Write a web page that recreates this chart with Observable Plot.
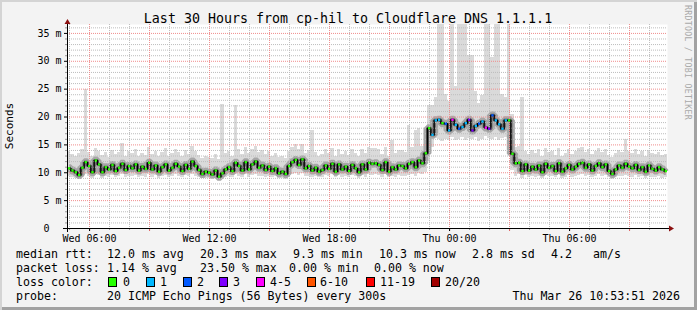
<!DOCTYPE html>
<html><head><meta charset="utf-8">
<script src="https://cdn.jsdelivr.net/npm/d3@7"></script>
<script src="https://cdn.jsdelivr.net/npm/@observablehq/plot@0.6"></script>
<style>
html,body{margin:0;padding:0;background:#fff;}
#chart{position:relative;width:697px;height:310px;background:#f3f3f3;overflow:hidden;font-family:"DejaVu Sans Mono",monospace;box-shadow:inset 2px 2px 0 #d4d4d4, inset -3px -3px 0 #a2a2a2;}
#chart svg{position:absolute;left:0;top:0;}
#chart svg text{white-space:pre;}
.t{position:absolute;white-space:pre;color:#000;font-size:11.6px;line-height:14px;height:14px;}
.box{position:absolute;width:7px;height:8px;border:1px solid #000;}
</style>
</head><body>
<div id="chart"></div>
<script>
// ---- data, 10-minute bins, 30 hours ----
const startMs = Date.UTC(2026, 2, 25, 4, 53, 51);   // Wed Mar 25 04:53:51
const endMs   = Date.UTC(2026, 2, 26, 10, 53, 51);  // Thu Mar 26 10:53:51
const stepMs  = 600000;

// median rtt (ms)
const median = [
 10.8,10.4,10.1,9.6,10.9,11.9,11.2,10.1,12.2,11.5,
 10.1,11.0,10.6,11.4,10.3,10.9,11.6,10.5,11.2,10.8,
 11.5,10.4,11.1,10.7,11.8,10.6,11.3,10.2,11.0,11.5,
 10.4,10.9,11.6,11.1,10.3,11.4,10.7,12.0,11.2,10.5,
 9.8,10.2,10.0,9.7,10.4,9.3,9.9,10.6,11.0,10.3,
 11.8,11.2,10.4,11.9,10.6,11.5,12.0,10.9,11.3,10.5,
 11.1,10.3,10.8,9.9,10.2,9.8,11.2,11.9,12.3,11.4,
 12.4,10.8,11.2,10.4,10.9,10.2,10.5,11.3,10.7,11.6,
 10.2,11.5,10.6,11.1,10.3,11.4,10.8,10.1,11.5,10.6,
 11.8,11.6,11.7,11.4,10.5,11.9,10.2,11.0,10.6,11.3,
 11.2,10.8,11.6,11.9,11.0,12.2,11.7,13.5,18.0,16.8,
 19.4,19.5,18.9,18.8,17.6,19.5,18.6,17.9,18.2,18.9,
 19.5,17.6,18.4,18.8,19.2,18.1,17.9,20.3,19.4,18.7,
 17.9,19.4,19.4,13.4,11.7,11.8,10.3,11.5,10.4,11.1,
 10.6,11.3,10.1,11.6,10.9,11.2,10.3,11.7,10.2,10.8,
 11.4,10.6,11.1,11.6,11.8,10.9,11.5,10.4,11.2,11.7,
 11.0,11.5,10.3,9.8,10.6,11.3,10.9,11.6,11.1,10.8,
 11.4,10.5,11.0,10.2,11.3,10.7,10.4,11.0,10.6,10.3
];
// fastest ping per bin (ms)
const pingLo = [
 9.3,9.1,8.9,8.8,9.2,9.6,9.4,8.9,9.7,9.5,
 9.0,9.4,9.2,9.5,9.1,9.3,9.6,9.2,9.4,9.3,
 9.5,9.1,9.4,9.2,9.6,9.2,9.5,9.0,9.3,9.5,
 9.1,9.3,9.6,9.4,9.1,9.5,9.3,9.7,9.4,9.2,
 8.9,9.0,9.0,8.8,9.1,8.7,8.9,9.2,9.3,9.1,
 9.6,9.4,9.2,9.7,9.2,9.5,9.7,9.3,9.4,9.2,
 9.4,9.1,9.3,8.9,9.0,8.8,9.4,9.7,9.8,9.5,
 9.8,9.3,9.4,9.2,9.3,9.1,9.2,9.5,9.3,9.6,
 9.1,9.5,9.2,9.4,9.1,9.5,9.3,9.0,9.5,9.2,
 9.6,9.5,9.6,9.5,9.2,9.7,9.1,9.4,9.2,9.5,
 9.4,9.3,9.5,9.7,9.4,9.8,9.6,10.0,12.0,14.5,
 16.2,15.9,15.6,16.0,15.8,16.3,15.7,16.0,16.4,15.8,
 16.1,15.9,16.3,15.6,16.0,16.5,16.2,15.9,16.3,15.8,
 16.1,16.4,15.2,10.4,9.3,9.6,9.0,9.5,9.1,9.3,
 9.2,9.4,8.9,9.5,9.3,9.4,9.1,9.6,9.0,9.2,
 9.5,9.2,9.4,9.5,9.6,9.3,9.5,9.1,9.4,9.6,
 9.3,9.5,9.1,8.8,9.2,9.4,9.3,9.5,9.4,9.2,
 9.5,9.2,9.3,9.0,9.4,9.2,9.1,9.3,9.0,9.2
];
// slowest ping per bin (ms)
const pingHi = [
 13.8,13.2,12.9,13.5,14.1,25.0,13.6,13.0,14.4,13.9,
 13.1,13.7,12.8,14.0,13.3,13.6,15.2,13.0,13.8,13.4,
 14.2,13.0,13.5,13.1,14.6,13.2,13.9,12.9,13.6,14.3,
 13.0,13.4,14.1,13.7,12.9,14.0,13.3,14.8,13.9,13.1,
 12.6,13.0,12.8,12.5,13.2,12.4,22.2,13.4,13.8,13.0,
 22.0,14.1,13.2,14.6,13.4,14.2,14.8,13.6,14.0,13.3,
 13.9,13.0,13.5,12.7,12.9,12.6,13.8,14.5,15.0,14.2,
 15.1,13.5,14.0,17.5,13.6,13.0,13.3,14.1,13.4,14.3,
 13.0,14.2,13.3,13.8,13.1,14.1,13.5,12.9,14.2,13.4,
 14.5,14.3,14.4,14.1,13.2,14.6,13.0,15.8,13.4,14.0,
 14.0,13.6,18.5,14.6,17.6,18.0,14.8,16.8,22.0,22.0,
 23.5,40,40,24.0,22.8,40,25.5,40,40,40,
 31.0,31.0,24.5,22.5,23.8,40,40,30.7,40,40,
 24.0,23.5,40,20.5,14.5,14.8,23.5,13.9,13.2,14.0,
 13.4,14.1,13.0,14.3,13.6,13.9,13.1,14.4,13.0,13.5,
 14.1,13.3,13.8,14.3,14.5,13.6,14.2,13.2,13.9,14.4,
 13.7,14.2,13.1,12.7,13.4,14.0,13.6,16.0,13.8,13.5,
 14.1,13.2,13.8,13.0,14.0,13.4,13.2,13.7,13.1,13.3
];
// lost pings (of 20) for the bins starting at lossStart; all other bins 0
const lossStart = 109;
const lossCounts = [1,1,1,0,2,1,4,1,2,1,1,3,3,1,2,1,5,3,2,1,1,1,1,0];

const lossLabels = ["0","1","2","3","4-5","6-10","11-19","20/20"];
const lossColors = ["#26ff00","#00b8ff","#0059ff","#7e00ff","#ff00ff","#ff5500","#ff0000","#a10000"];
const lossMax    = [0,1,2,3,5,10,19,20];

const yMajorTicks  = [0,5,10,15,20,25,30,35];
const yMajorLabels = ["0  ","5 m","10 m","15 m","20 m","25 m","30 m","35 m"];

// ---- build rows ----
const lossOf = i => (i >= lossStart && i < lossStart + lossCounts.length) ? lossCounts[i - lossStart] : 0;
const colorOf = n => lossColors[lossMax.findIndex(m => n <= m)];
const rows = median.map((m, i) => ({
  t0: new Date(startMs + i * stepMs),
  t1: new Date(startMs + (i + 1) * stepMs),
  tc: new Date(startMs + (i + 0.5) * stepMs),
  med: m, lo: pingLo[i], hi: pingHi[i], color: colorOf(lossOf(i))
}));

const hours = d3.utcHour.range(new Date(startMs), new Date(endMs));
const hours3 = hours.filter(d => d.getUTCHours() % 3 === 0);
const hours6 = hours.filter(d => d.getUTCHours() % 6 === 0);
const yMinor = d3.range(1, 37).filter(v => v % 5 !== 0);
const fmt = d3.utcFormat("%a %H:%M");

function axisLines(index, scales, values, dim) {
  const ns = "http://www.w3.org/2000/svg";
  const g = document.createElementNS(ns, "g");
  const x0 = dim.marginLeft, y0 = dim.height - dim.marginBottom;
  const xr = dim.width - dim.marginRight, yt = dim.marginTop;
  g.innerHTML =
    `<line x1="${x0 - 4}" y1="${y0 + 0.5}" x2="${xr + 3}" y2="${y0 + 0.5}" stroke="#000"/>` +
    `<line x1="${x0 + 0.5}" y1="${y0 + 4}" x2="${x0 + 0.5}" y2="${yt - 1}" stroke="#000"/>` +
    `<path d="M${xr + 2},${y0 - 2.5}L${xr + 7},${y0 + 0.5}L${xr + 2},${y0 + 3.5}Z" fill="#8b1010"/>` +
    `<path d="M${x0 - 2.5},${yt}L${x0 + 0.5},${yt - 5}L${x0 + 3.5},${yt}Z" fill="#8b1010"/>`;
  return g;
}

const chart = Plot.plot({
  width: 697, height: 310,
  marginLeft: 67, marginRight: 30, marginTop: 24, marginBottom: 82,
  x: {type: "utc", domain: [new Date(startMs), new Date(endMs)]},
  y: {domain: [0, 36.6]},
  style: {background: "transparent", fontFamily: "'DejaVu Sans Mono', monospace", fontSize: "10px", color: "#000", overflow: "visible"},
  marks: [
    Plot.frame({fill: "white"}),
    // smoke
    Plot.rect(rows, {x1: "t0", x2: "t1", y1: "lo", y2: "hi", fill: "#dadada", clip: true, shapeRendering: "crispEdges"}),
    Plot.line(rows, {x: "tc", y: "med", curve: "step", stroke: "#a6a6a6", strokeWidth: 8, strokeLinejoin: "miter", strokeLinecap: "butt"}),
    Plot.line(rows, {x: "tc", y: "med", curve: "step", stroke: "#555", strokeWidth: 3, strokeLinejoin: "miter", strokeLinecap: "butt"}),
    // grid
    Plot.ruleX(hours.filter(d => d.getUTCHours() % 3 !== 0), {stroke: "#bdbdbd", strokeDasharray: "1,1"}),
    Plot.ruleY(yMinor, {stroke: "#bdbdbd", strokeDasharray: "1,1"}),
    Plot.ruleX(hours3, {stroke: "#f08c8c", strokeDasharray: "1,1"}),
    Plot.ruleY(yMajorTicks.slice(1), {stroke: "#f08c8c", strokeDasharray: "1,1"}),
    // median
    Plot.line(rows, {x: "tc", y: "med", curve: "step", stroke: "#000", strokeWidth: 1.2}),
    Plot.dot(rows, {x: "tc", y: "med", symbol: "square", r: 1.3, fill: "color", stroke: null}),
    // axes
    Plot.axisX({ticks: hours, tickSize: 2, tickFormat: () => "", stroke: "#999", label: null}),
    Plot.axisX({ticks: hours3, tickSize: 3, tickFormat: () => "", stroke: "#e06060", label: null}),
    Plot.axisX({ticks: hours6, tickSize: 3, tickPadding: 3, tickFormat: fmt, label: null}),
    Plot.axisY({ticks: yMinor, tickSize: 2, tickFormat: () => "", stroke: "#999", label: null}),
    Plot.axisY({ticks: yMajorTicks, tickSize: 3, tickPadding: 3, tickFormat: (d, i) => yMajorLabels[yMajorTicks.indexOf(d)], label: null}),
    axisLines
  ]
});
const root = document.getElementById("chart");
root.appendChild(chart);

// ---- texts ----
function txt(s, x, cy, extra) {
  const d = document.createElement("div");
  d.className = "t"; d.textContent = s;
  d.style.left = x + "px"; d.style.top = (cy - 7) + "px";
  if (extra) Object.assign(d.style, extra);
  root.appendChild(d);
  return d;
}
txt("Last 30 Hours from cp-hil to Cloudflare DNS 1.1.1.1", 0, 19, {width: "696px", textAlign: "center", fontSize: "13.3px", height: "16px", lineHeight: "16px", top: "11px"});
txt("Seconds", -30, 126, {width: "80px", textAlign: "center", transform: "rotate(-90deg)", fontSize: "11px"});
txt("RRDTOOL / TOBI OETIKER", 683, 60, {writingMode: "vertical-rl", height: "auto", top: "5px", fontSize: "8.2px", color: "#a9a9a9", lineHeight: "9px", letterSpacing: "0.3px"});

const line1 = [["median rtt:",16],["12.0 ms avg",107],["20.3 ms max",200],["9.3 ms min",293],["10.3 ms now",379],["2.8 ms sd",472],["4.2",551],["am/s",593]];
const line2 = [["packet loss:",16],["1.14 % avg",107],["23.50 % max",200],["0.00 % min",289],["0.00 % now",374]];
line1.forEach(([s, x]) => txt(s, x, 254));
line2.forEach(([s, x]) => txt(s, x, 268));
txt("loss color:", 16, 282);
const boxX = [108,146,183,219,256,307,366,431];
const labX = [123,160,197,233,270,320,380,445];
lossLabels.forEach((l, i) => {
  const b = document.createElement("div");
  b.className = "box"; b.style.left = boxX[i] + "px"; b.style.top = "277px"; b.style.background = lossColors[i];
  root.appendChild(b);
  txt(l, labX[i], 282);
});
txt("probe:", 16, 296);
txt("20 ICMP Echo Pings (56 Bytes) every 300s", 107, 296);
txt("Thu Mar 26 10:53:51 2026", 0, 296, {left: "auto", right: "17px"});
</script>
</body></html>
